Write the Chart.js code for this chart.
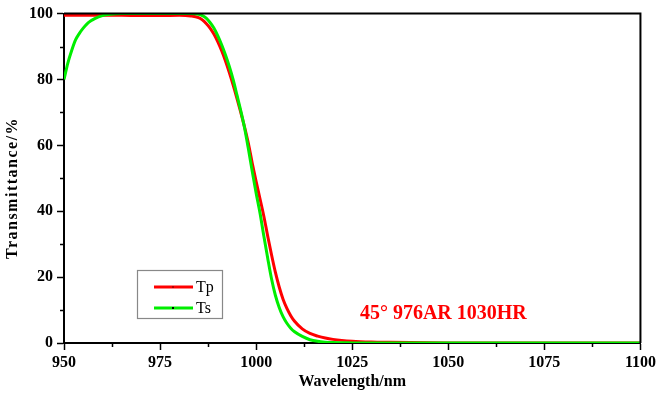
<!DOCTYPE html>
<html>
<head>
<meta charset="utf-8">
<script src="https://cdn.jsdelivr.net/npm/chart.js@4.4.0/dist/chart.umd.min.js"></script>
<style>
  html, body { margin:0; padding:0; background:#fff; }
  #wrap { width:659px; height:393px; }
</style>
</head>
<body>
<div id="wrap"><canvas id="myChart" width="659" height="393"></canvas></div>
<script>
// spectrum data
const wavelengths = [950, 951, 952, 953, 954, 955, 956, 957, 958, 960, 962, 965, 970, 975, 980, 983, 985, 986, 987, 988,
  989, 990, 991, 992, 993, 994, 995, 996, 997, 998, 999, 1000, 1001, 1002, 1003, 1004, 1005, 1006, 1007, 1008,
  1009, 1010, 1012, 1014, 1016, 1018, 1020, 1025, 1030, 1035, 1040, 1045, 1050, 1060, 1075, 1100];

const tp = [99.5, 99.5, 99.5, 99.5, 99.5, 99.5, 99.5, 99.5, 99.5, 99.5, 99.5, 99.5, 99.4, 99.4, 99.5, 99.3, 98.8, 98.1, 97, 95.6,
  93.8, 91.5, 88.8, 85.7, 82.2, 78.4, 74.3, 70, 65.5, 60.5, 54.5, 49, 43.8, 38.5, 32.5, 26.8, 21.5, 17, 13.3, 10.5,
  8.3, 6.6, 4.3, 2.9, 2.1, 1.5, 1.1, 0.55, 0.3, 0.2, 0.12, 0.06, 0.03, 0, 0, 0];

const ts = [80, 85, 88.8, 92, 94, 95.6, 96.9, 97.8, 98.5, 99.4, 99.8, 100, 100, 100, 100, 100, 99.8, 99.4, 98.6, 97.3,
  95.6, 93.3, 90.6, 87.5, 84, 80, 75.3, 70.5, 65.2, 58.8, 52, 45.5, 39.5, 32.5, 25.8, 19.5, 14.5, 10.8, 8, 6,
  4.5, 3.4, 2, 1, 0.5, 0.25, 0.12, 0.03, 0, 0, 0, 0, 0, 0, 0, 0];

const xTicks = [950, 975, 1000, 1025, 1050, 1075, 1100];
const yTicks = [0, 20, 40, 60, 80, 100];
const yTitle = 'Transmittance/%';
const note = '45° 976AR 1030HR';

const serif = "'Liberation Serif', 'Times New Roman', serif";

const toPoints = (ys) => wavelengths.map((w, i) => ({x: w, y: ys[i]}));

// minor ticks, frame, y title, legend box and the note
const extras = {
  id: 'extras',
  afterDraw(chart) {
    const ctx = chart.ctx;
    const a = chart.chartArea;
    const xs = chart.scales.x;
    const ys = chart.scales.y;
    ctx.save();
    ctx.strokeStyle = '#000';
    ctx.lineWidth = 2;
    ctx.beginPath();
    ctx.moveTo(a.left, a.top);
    ctx.lineTo(a.right, a.top);
    ctx.lineTo(a.right, a.bottom);
    ctx.stroke();

    ctx.lineWidth = 1.5;
    ctx.beginPath();
    for (let i = 0; i < xTicks.length - 1; i++) {
      const px = Math.round(xs.getPixelForValue((xTicks[i] + xTicks[i + 1]) / 2)) + 0.5;
      ctx.moveTo(px, a.bottom);
      ctx.lineTo(px, a.bottom + 4);
    }
    for (let i = 0; i < yTicks.length - 1; i++) {
      const py = Math.round(ys.getPixelForValue((yTicks[i] + yTicks[i + 1]) / 2)) + 0.5;
      ctx.moveTo(a.left, py);
      ctx.lineTo(a.left - 4, py);
    }
    ctx.stroke();

    // y title, a bit spaced out like the original
    ctx.save();
    ctx.translate(13, 188);
    ctx.rotate(-Math.PI / 2);
    ctx.font = 'bold 16px ' + serif;
    ctx.letterSpacing = '1.5px';
    ctx.fillStyle = '#000';
    ctx.textAlign = 'center';
    ctx.textBaseline = 'middle';
    ctx.fillText(yTitle, 0, 0);
    ctx.restore();

    // legend
    const lx = a.left + 73, ly = 270;
    ctx.strokeStyle = '#888';
    ctx.lineWidth = 1.2;
    ctx.strokeRect(lx + 0.5, ly + 0.5, 85, 48);
    ctx.font = '16px ' + serif;
    ctx.textBaseline = 'middle';
    ctx.textAlign = 'left';
    chart.data.datasets.forEach((ds, i) => {
      const y = ly + 17 + i * 21;
      ctx.strokeStyle = ds.borderColor;
      ctx.lineWidth = 3;
      ctx.beginPath();
      ctx.moveTo(lx + 17, y);
      ctx.lineTo(lx + 56, y);
      ctx.stroke();
      ctx.fillStyle = i === 0 ? '#b00000' : '#000';
      ctx.fillRect(lx + 35, y - 1, 2, 2);
      ctx.fillStyle = '#000';
      ctx.fillText(ds.label, lx + 59, y + 1);
    });

    // note
    ctx.fillStyle = '#ff0000';
    ctx.font = 'bold 20px ' + serif;
    ctx.textBaseline = 'alphabetic';
    ctx.fillText(note, xs.getPixelForValue(1027), ys.getPixelForValue(7.4));
    ctx.restore();
  }
};

const data = {
  datasets: [{
    label: 'Tp',
    data: toPoints(tp),
    borderColor: '#ff0000',
    borderWidth: 3,
    pointRadius: 0,
    cubicInterpolationMode: 'monotone',
    order: 1
  }, {
    label: 'Ts',
    data: toPoints(ts),
    borderColor: '#00ee00',
    borderWidth: 3,
    pointRadius: 0,
    cubicInterpolationMode: 'monotone',
    order: 0
  }]
};

const config = {
  type: 'line',
  data: data,
  plugins: [extras],
  options: {
    responsive: false,
    animation: false,
    layout: {padding: {top: 13, right: 18, left: 0, bottom: 0}},
    plugins: {legend: {display: false}, tooltip: {enabled: false}},
    scales: {
      x: {
        type: 'linear',
        min: 950, max: 1100,
        afterBuildTicks: (s) => { s.ticks = xTicks.map(v => ({value: v})); },
        afterFit: (s) => { s.height = 50; },
        border: {display: true, color: '#000', width: 2},
        grid: {drawOnChartArea: false, drawTicks: true, tickLength: 7, tickColor: '#000', tickWidth: 1.5},
        ticks: {color: '#000', padding: 3, maxRotation: 0, autoSkip: false, callback: (v) => String(v),
          font: {family: serif, size: 16, weight: 'bold'}},
        title: {display: true, text: 'Wavelength/nm', color: '#000', padding: {top: 0, bottom: 2}, font: {family: serif, size: 16, weight: 'bold'}}
      },
      y: {
        min: 0, max: 100,
        afterBuildTicks: (s) => { s.ticks = yTicks.map(v => ({value: v})); },
        afterFit: (s) => { s.width = 64; },
        border: {display: true, color: '#000', width: 2},
        grid: {drawOnChartArea: false, drawTicks: true, tickLength: 7, tickColor: '#000', tickWidth: 1.5},
        ticks: {color: '#000', padding: 4, callback: (v) => String(v), font: {family: serif, size: 16, weight: 'bold'}},
        title: {display: false}
      }
    }
  }
};

const myChart = new Chart(document.getElementById('myChart'), config);
</script>
</body>
</html>
